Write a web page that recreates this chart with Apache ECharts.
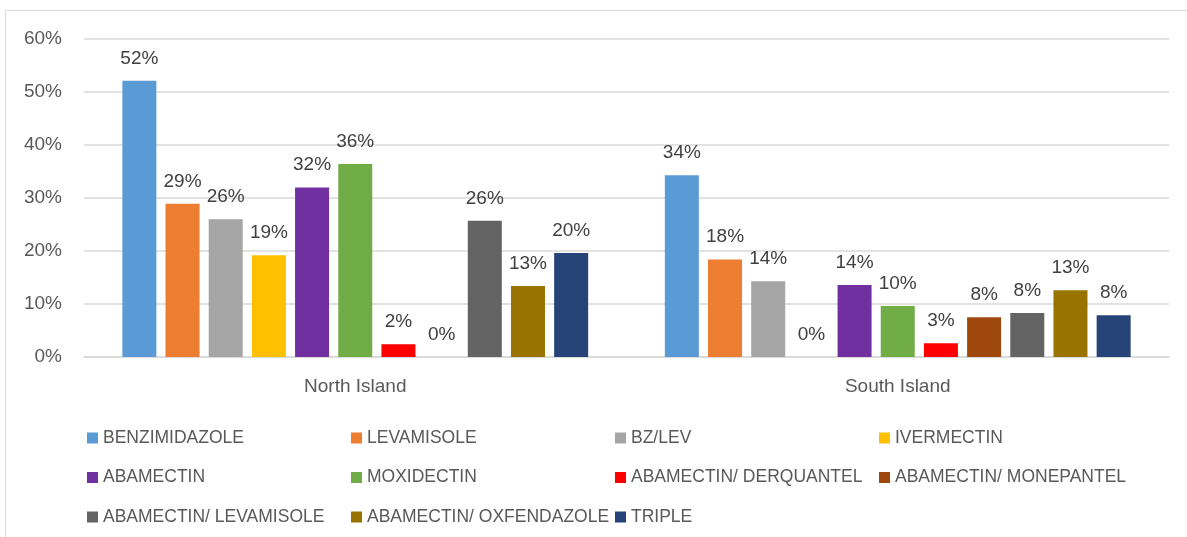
<!DOCTYPE html>
<html>
<head>
<meta charset="utf-8">
<script src="https://cdn.jsdelivr.net/npm/echarts@6/dist/echarts.min.js"></script>
<style>
  html, body { margin: 0; padding: 0; background: #ffffff; }
  #chart { width: 1187px; height: 537px; }
</style>
</head>
<body>
<div id="chart"></div>
<script>
// ---- data ----
const categories = ['North Island', 'South Island'];
const seriesNames = [
  'BENZIMIDAZOLE', 'LEVAMISOLE', 'BZ/LEV', 'IVERMECTIN',
  'ABAMECTIN', 'MOXIDECTIN', 'ABAMECTIN/ DERQUANTEL', 'ABAMECTIN/ MONEPANTEL',
  'ABAMECTIN/ LEVAMISOLE', 'ABAMECTIN/ OXFENDAZOLE', 'TRIPLE'
];
const benzimidazole = [52.1, 34.3];
const levamisole = [28.9, 18.4];
const bzLev = [26.0, 14.3];
const ivermectin = [19.2, 0];
const abamectin = [32.0, 13.6];
const moxidectin = [36.4, 9.6];
const abaDerquantel = [2.4, 2.6];
const abaMonepantel = [0, 7.5];
const abaLevamisole = [25.7, 8.3];
const abaOxfendazole = [13.4, 12.6];
const triple = [19.6, 7.9];
const yTicks = [0, 10, 20, 30, 40, 50, 60];

const seriesValues = [benzimidazole, levamisole, bzLev, ivermectin, abamectin, moxidectin,
  abaDerquantel, abaMonepantel, abaLevamisole, abaOxfendazole, triple];
const colors = ['#5B9BD5', '#ED7D31', '#A5A5A5', '#FFC000', '#7030A0', '#70AD47',
  '#FF0000', '#9E480E', '#636363', '#997300', '#264478'];

const FONT = "'Liberation Sans', Arial, sans-serif";

const chart = echarts.init(document.getElementById('chart'), null, { renderer: 'canvas' });

const series = seriesNames.map((name, i) => ({
  name: name,
  type: 'bar',
  data: seriesValues[i],
  barWidth: 34,
  barGap: '27%',
  itemStyle: { color: colors[i] },
  label: {
    show: true,
    position: 'top',
    distance: 13,
    fontFamily: FONT,
    fontSize: 19,
    color: '#404040',
    formatter: p => Math.round(p.value) + '%'
  }
}));

const legends = seriesNames.map((name, i) => ({
  data: [name],
  left: 82 + (i % 4) * 264,
  top: 424 + Math.floor(i / 4) * 39.5,
  itemWidth: 11,
  itemHeight: 11,
  icon: 'rect',
  textStyle: { fontFamily: FONT, fontSize: 17.5, color: '#595959' },
  selectedMode: false
}));

chart.setOption({
  animation: false,
  backgroundColor: '#ffffff',
  graphic: [{
    type: 'rect',
    shape: { x: 5.5, y: 10.5, width: 1300, height: 700 },
    style: { fill: 'none', stroke: '#d9d9d9', lineWidth: 1 },
    silent: true
  }],
  grid: { left: 84, right: 18, top: 39, bottom: 180, containLabel: false },
  legend: legends,
  xAxis: {
    type: 'category',
    data: categories,
    axisLine: { show: true, lineStyle: { color: '#d9d9d9', width: 1.5 } },
    axisTick: { show: false },
    axisLabel: { fontFamily: FONT, fontSize: 19, color: '#595959', margin: 20 }
  },
  yAxis: {
    type: 'value',
    min: yTicks[0],
    max: yTicks[yTicks.length - 1],
    interval: 10,
    axisLine: { show: false },
    axisTick: { show: false },
    splitLine: { lineStyle: { color: '#d9d9d9', width: 1.5 } },
    axisLabel: { fontFamily: FONT, fontSize: 19, color: '#595959', margin: 22, formatter: '{value}%' }
  },
  series: series
});
</script>
</body>
</html>
